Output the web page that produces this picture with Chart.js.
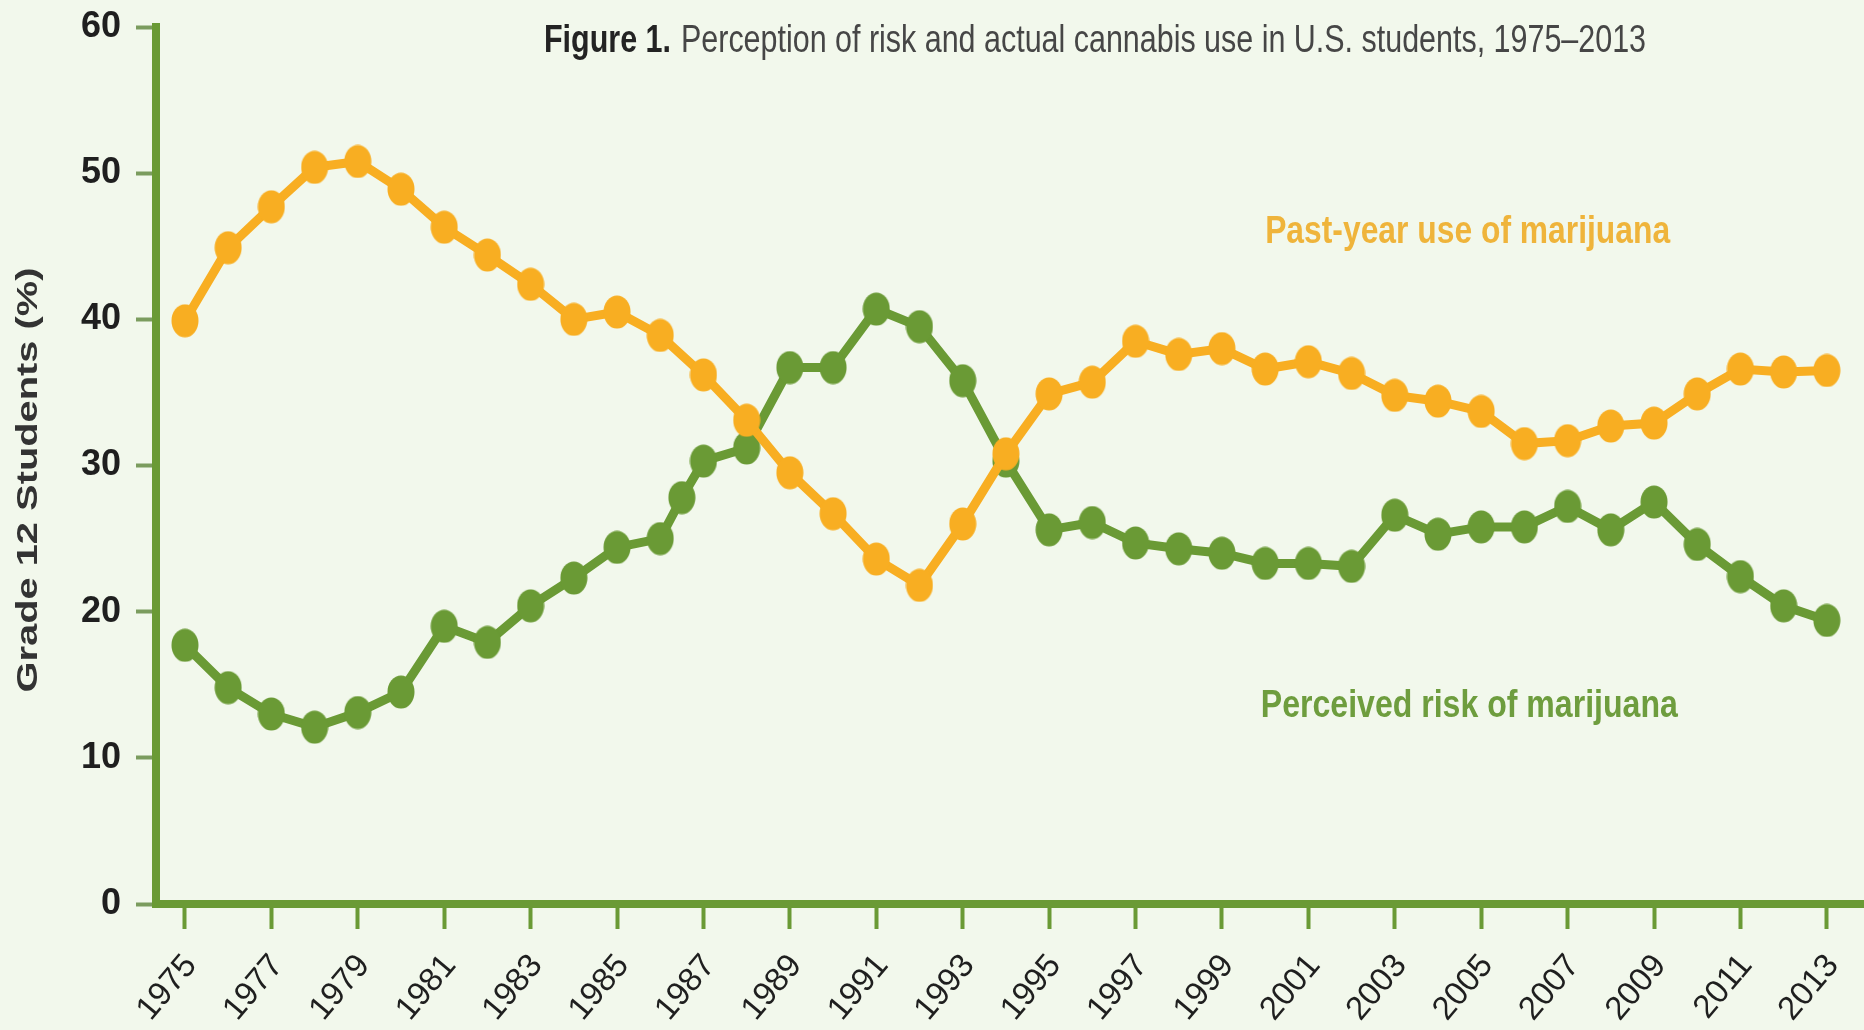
<!DOCTYPE html>
<html>
<head>
<meta charset="utf-8">
<title>Perception of risk and actual cannabis use in U.S. students</title>
<script src="https://cdn.jsdelivr.net/npm/chart.js@4.4.1/dist/chart.umd.min.js"></script>
<style>
  html, body { margin: 0; padding: 0; background: #f2f8ec; }
  canvas { display: block; }
</style>
</head>
<body>
<canvas id="riskChart" width="1864" height="1030"></canvas>
<script>
//data


const useYears = [1975, 1976, 1977, 1978, 1979, 1980, 1981, 1982, 1983, 1984,
  1985, 1986, 1987, 1988, 1989, 1990, 1991, 1992, 1993, 1994,
  1995, 1996, 1997, 1998, 1999, 2000, 2001, 2002, 2003, 2004,
  2005, 2006, 2007, 2008, 2009, 2010, 2011, 2012, 2013];
const useValues = [39.9, 44.9, 47.7, 50.4, 50.8, 48.9, 46.3, 44.4, 42.4, 40.0,
  40.5, 38.9, 36.2, 33.1, 29.5, 26.7, 23.6, 21.8, 26.0, 30.8,
  34.9, 35.7, 38.5, 37.6, 38.0, 36.6, 37.1, 36.3, 34.8, 34.4,
  33.7, 31.5, 31.7, 32.7, 32.9, 34.9, 36.6, 36.4, 36.5];

// the green series has one extra point between 1986 and 1987
const riskYears = [1975, 1976, 1977, 1978, 1979, 1980, 1981, 1982, 1983, 1984,
  1985, 1986, 1986.5, 1987, 1988, 1989, 1990, 1991, 1992, 1993, 1994,
  1995, 1996, 1997, 1998, 1999, 2000, 2001, 2002, 2003, 2004,
  2005, 2006, 2007, 2008, 2009, 2010, 2011, 2012, 2013];
const riskValues = [17.7, 14.8, 13.0, 12.1, 13.1, 14.5, 19.0, 17.9, 20.4, 22.3,
  24.4, 25.0, 27.8, 30.3, 31.2, 36.7, 36.7, 40.7, 39.5, 35.8, 30.3,
  25.6, 26.1, 24.7, 24.3, 24.0, 23.3, 23.3, 23.1, 26.6, 25.3,
  25.8, 25.8, 27.2, 25.6, 27.5, 24.6, 22.4, 20.4, 19.4];

const yearTicks = [1975, 1977, 1979, 1981, 1983, 1985, 1987, 1989, 1991, 1993,
  1995, 1997, 1999, 2001, 2003, 2005, 2007, 2009, 2011, 2013];
const valueTicks = [0, 10, 20, 30, 40, 50, 60];

const useLabel = 'Past-year use of marijuana';
const riskLabel = 'Perceived risk of marijuana';
const titleBold = 'Figure 1.';
const titleRest = 'Perception of risk and actual cannabis use in U.S. students, 1975\u20132013';
const yTitle = 'Grade 12 Students (%)';


//styles


const bgColor = '#f2f8ec';
const useColor = '#f8ae22';
const riskColor = '#6a9a35';
const useTextColor = '#efb43b';
const riskTextColor = '#6e9d3e';
const sans = "'Liberation Sans', Arial, Helvetica, sans-serif";
const narrow = "'Liberation Sans Narrow', 'Liberation Sans', Arial, sans-serif";


//functions


// the dots in the figure are a little taller than wide
function ellipseDot(color)
{
  const dot = document.createElement('canvas');
  dot.width = 28;
  dot.height = 34;
  const d = dot.getContext('2d');
  d.fillStyle = color;
  d.beginPath();
  d.ellipse(14, 17, 13.5, 16.5, 0, 0, Math.PI * 2);
  d.fill();
  return dot;
}

// draws text squeezed / stretched to a given width
function fitText(c, text, font, color, left, base, width)
{
  c.save();
  c.font = font;
  c.fillStyle = color;
  c.textAlign = 'left';
  c.textBaseline = 'alphabetic';
  const w = c.measureText(text).width;
  c.translate(left, base);
  c.scale(width / w, 1);
  c.fillText(text, 0, 0);
  c.restore();
}

function toPoints(xs, ys)
{
  return xs.map((x, i) => ({ x: x, y: ys[i] }));
}

// no extra room for the end labels, the axes run to the edges
function noPadding(axis)
{
  axis.paddingTop = 0;
  axis.paddingBottom = 0;
  axis.paddingLeft = 0;
  axis.paddingRight = 0;
}

const figureText = {
  id: 'figureText',
  beforeDraw(chart) {
    const c = chart.ctx;
    c.save();
    c.fillStyle = bgColor;
    c.fillRect(0, 0, chart.width, chart.height);
    c.restore();
  },
  afterDraw(chart) {
    const c = chart.ctx;
    const xs = chart.scales.x;
    const ys = chart.scales.y;

    fitText(c, titleBold, 'bold 38px ' + sans, '#232323', 544, 52, 127);
    fitText(c, titleRest, '38px ' + sans, '#464646', 681, 52, 965);

    // series labels sit next to the lines, placed by data position
    fitText(c, useLabel, 'bold 39px ' + sans, useTextColor,
      xs.getPixelForValue(2000), ys.getPixelForValue(45.2), 405);
    fitText(c, riskLabel, 'bold 39px ' + sans, riskTextColor,
      xs.getPixelForValue(1999.9), ys.getPixelForValue(12.8), 417);

    // rotated y axis title
    c.save();
    c.translate(29, 480);
    c.rotate(-Math.PI / 2);
    c.font = 'bold 29px ' + sans;
    c.fillStyle = '#333333';
    c.textAlign = 'center';
    c.textBaseline = 'middle';
    const w = c.measureText(yTitle).width;
    c.scale(425 / w, 1);
    c.fillText(yTitle, 0, 0);
    c.restore();
  }
};


//chart


const ctx = document.getElementById('riskChart').getContext('2d');
const riskChart = new Chart(ctx, {
  type: 'line',
  data: {
    datasets: [
      {
        label: useLabel,
        data: toPoints(useYears, useValues),
        borderColor: useColor,
        backgroundColor: useColor,
        borderWidth: 9,
        pointStyle: ellipseDot(useColor),
        pointRadius: 14,
        tension: 0
      },
      {
        label: riskLabel,
        data: toPoints(riskYears, riskValues),
        borderColor: riskColor,
        backgroundColor: riskColor,
        borderWidth: 9,
        pointStyle: ellipseDot(riskColor),
        pointRadius: 14,
        tension: 0
      }
    ]
  },
  options: {
    responsive: false,
    animation: false,
    layout: { autoPadding: false, padding: { top: 27, left: 0, right: 0, bottom: 0 } },
    plugins: {
      legend: { display: false },
      tooltip: { enabled: false },
      title: { display: false }
    },
    scales: {
      x: {
        type: 'linear',
        min: 1974.33,
        max: 2013.86,
        afterBuildTicks: axis => { axis.ticks = yearTicks.map(v => ({ value: v })); },
        afterFit: axis => { axis.height = 126; noPadding(axis); },
        grid: { drawOnChartArea: false, tickLength: 25, tickColor: riskColor, tickWidth: 4 },
        border: { color: riskColor, width: 8 },
        ticks: {
          autoSkip: false,
          minRotation: 50,
          maxRotation: 50,
          padding: 18,
          labelOffset: 6,
          color: '#1f1f1f',
          font: { family: sans, size: 33 },
          callback: v => String(v)
        }
      },
      y: {
        type: 'linear',
        min: 0,
        max: 60,
        afterBuildTicks: axis => { axis.ticks = valueTicks.map(v => ({ value: v })); },
        afterFit: axis => { axis.width = 156; noPadding(axis); },
        grid: { drawOnChartArea: false, tickLength: 20, tickColor: '#7b9c5e', tickWidth: 4 },
        border: { color: riskColor, width: 8 },
        ticks: {
          padding: 15,
          color: '#1f1f1f',
          font: { family: narrow, size: 36, weight: 'bold' }
        }
      }
    }
  },
  plugins: [figureText]
});
</script>
</body>
</html>
